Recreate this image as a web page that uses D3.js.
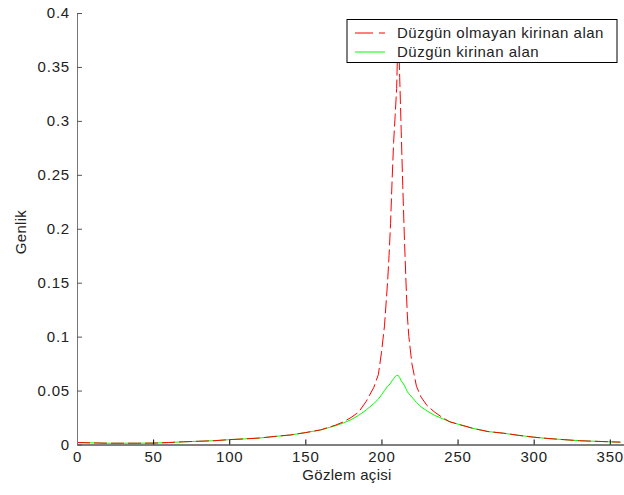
<!DOCTYPE html>
<html>
<head>
<meta charset="utf-8">
<script src="https://cdn.jsdelivr.net/npm/d3@7"></script>
<style>
  body { margin: 0; background: #fff; }
  svg { display: block; }
  text { font-family: "Liberation Sans", Arial, sans-serif; }
</style>
</head>
<body>
<div class="chart"></div>
<script>
// Gözlem açisi (degrees) and amplitudes
const angles = [0, 10, 20, 30, 40, 50, 60, 70, 80, 90, 100, 110, 120, 130, 140, 150, 160, 170, 175, 180, 185, 190, 195, 198, 200, 202, 204, 205, 206, 207, 208, 209, 210, 211, 212, 213, 214, 215, 216, 217, 218, 220, 223, 226, 230, 235, 240, 245, 250, 260, 270, 280, 290, 300, 310, 320, 330, 340, 350, 357];
const nonUniform = [0.0018, 0.0015, 0.0012, 0.0012, 0.0012, 0.0013, 0.0018, 0.0025, 0.003, 0.0035, 0.0045, 0.0052, 0.006, 0.0075, 0.0088, 0.011, 0.0135, 0.018, 0.021, 0.025, 0.030, 0.040, 0.053, 0.065, 0.085, 0.11, 0.15, 0.175, 0.205, 0.245, 0.28, 0.305, 0.33, 0.39, 0.34, 0.29, 0.24, 0.195, 0.155, 0.12, 0.10, 0.075, 0.054, 0.044, 0.036, 0.030, 0.025, 0.021, 0.019, 0.015, 0.012, 0.0105, 0.0085, 0.0068, 0.0055, 0.0045, 0.0035, 0.003, 0.0025, 0.0022];
const uniform = [0.0018, 0.0015, 0.0012, 0.0012, 0.0012, 0.0013, 0.0018, 0.0025, 0.003, 0.0035, 0.0045, 0.0052, 0.006, 0.0075, 0.0088, 0.011, 0.0135, 0.0175, 0.02, 0.023, 0.027, 0.032, 0.038, 0.042, 0.046, 0.050, 0.054, 0.055, 0.057, 0.059, 0.061, 0.063, 0.064, 0.064, 0.062, 0.059, 0.057, 0.055, 0.052, 0.049, 0.047, 0.044, 0.039, 0.035, 0.031, 0.027, 0.024, 0.021, 0.019, 0.015, 0.012, 0.0105, 0.0085, 0.0068, 0.0055, 0.0045, 0.0035, 0.003, 0.0025, 0.0022];
const xTicks = [0, 50, 100, 150, 200, 250, 300, 350];
const yTicks = [0, 0.05, 0.1, 0.15, 0.2, 0.25, 0.3, 0.35, 0.4];
const seriesNames = ["Düzgün olmayan kirinan alan", "Düzgün kirinan alan"];

const width = 624;
const height = 495;

const x = d3.scaleLinear().domain([0, 360]).range([77, 625]);
const y = d3.scaleLinear().domain([0, 0.4]).range([444.5, 13]);

const svg = d3.select(".chart").append("svg")
  .attr("width", width)
  .attr("height", height);

const line = d3.line()
  .x(function(d) { return x(d[0]); })
  .y(function(d) { return y(d[1]); });

// curves
svg.append("path")
  .datum(angles.map(function(a, i) { return [a, uniform[i]]; }))
  .attr("d", line)
  .attr("fill", "none")
  .attr("stroke", "#00ff00")
  .attr("stroke-width", 1);

svg.append("path")
  .datum(angles.map(function(a, i) { return [a, nonUniform[i]]; }))
  .attr("d", line)
  .attr("fill", "none")
  .attr("stroke", "#ff0000")
  .attr("stroke-width", 1)
  .attr("stroke-dasharray", "13,4");

// axes (ticks point inward, MATLAB style)
const xAxis = svg.append("g")
  .attr("transform", "translate(0," + y(0) + ")")
  .call(d3.axisBottom(x).tickValues(xTicks).tickSizeInner(-5).tickSizeOuter(0).tickPadding(7));
xAxis.select(".domain").attr("stroke", "#000");
xAxis.selectAll(".tick line").attr("stroke", "#000");
xAxis.selectAll("text")
  .style("font-size", "15px")
  .style("letter-spacing", "0.8px")
  .attr("fill", "#222");

const yAxis = svg.append("g")
  .attr("transform", "translate(" + x(0) + ",0)")
  .call(d3.axisLeft(y).tickValues(yTicks).tickFormat(d3.format("~g")).tickSizeInner(-5).tickSizeOuter(0).tickPadding(7));
yAxis.select(".domain").attr("stroke", "#777");
yAxis.selectAll(".tick line").attr("stroke", "#555");
yAxis.selectAll("text")
  .style("font-size", "15px")
  .style("letter-spacing", "0.8px")
  .attr("fill", "#222");

// axis titles
svg.append("text")
  .attr("x", 347)
  .attr("y", 480)
  .style("text-anchor", "middle")
  .style("font-size", "15px")
  .style("letter-spacing", "0.3px")
  .attr("fill", "#222")
  .text("Gözlem açisi");

svg.append("text")
  .attr("transform", "translate(26," + 232 + ") rotate(-90)")
  .style("text-anchor", "middle")
  .style("font-size", "15px")
  .style("letter-spacing", "0.3px")
  .attr("fill", "#222")
  .text("Genlik");

// legend
const legend = svg.append("g");
legend.append("rect")
  .attr("x", 347)
  .attr("y", 19.5)
  .attr("width", 270)
  .attr("height", 43)
  .attr("fill", "#fff")
  .attr("stroke", "#000")
  .attr("stroke-width", 1);

const legendColors = ["#ff0000", "#00ff00"];
const legendDash = ["18,6", null];
seriesNames.forEach(function(name, i) {
  const ly = 33 + i * 19;
  legend.append("line")
    .attr("x1", 355).attr("x2", 385)
    .attr("y1", ly).attr("y2", ly)
    .attr("stroke", legendColors[i])
    .attr("stroke-dasharray", legendDash[i]);
  legend.append("text")
    .attr("x", 397)
    .attr("y", ly + 5)
    .style("font-size", "15px")
    .style("letter-spacing", "0.5px")
    .attr("fill", "#222")
    .text(name);
});
</script>
</body>
</html>
